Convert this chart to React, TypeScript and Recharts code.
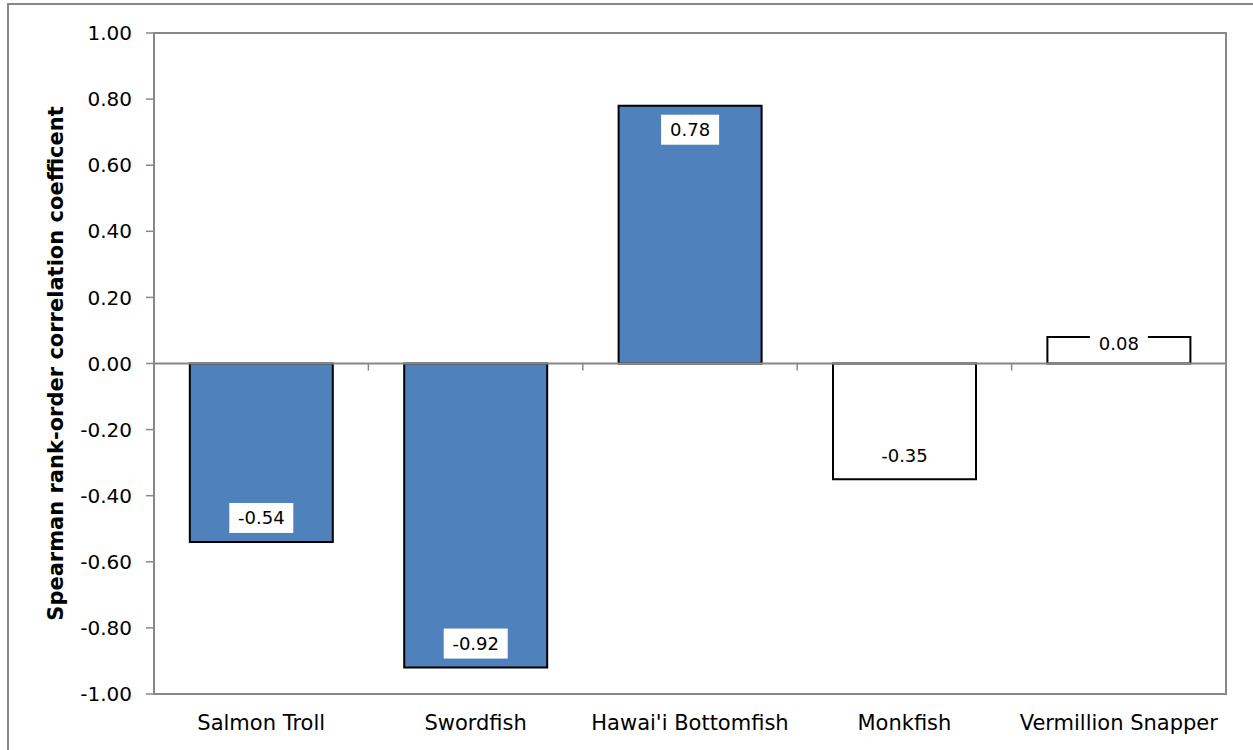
import { Bar, BarChart, Cell, LabelList, ReferenceArea, ReferenceLine, XAxis, YAxis } from 'recharts'

const categories = ['Salmon Troll', 'Swordfish', "Hawai'i Bottomfish", 'Monkfish', 'Vermillion Snapper']
const coefficients = [-0.54, -0.92, 0.78, -0.35, 0.08]
const yTicks = [-1, -0.8, -0.6, -0.4, -0.2, 0, 0.2, 0.4, 0.6, 0.8, 1]

const barFills = ['#4F81BD', '#4F81BD', '#4F81BD', '#FFFFFF', '#FFFFFF']
const FONT = '"DejaVu Sans", Verdana, sans-serif'
const AXIS_GREY = '#888888'

const data = categories.map((name, i) => ({ name, value: coefficients[i] }))

function ValueLabel(props: any) {
  const { x, y, width, height, value } = props
  const top = Math.min(y, y + height)
  const bottom = Math.max(y, y + height)
  const h = bottom - top
  const text = Number(value).toFixed(2)
  const inset = Math.min(24, Math.max(6, h - 21))
  const cy = value >= 0 ? top + inset : bottom - inset
  const cx = x + width / 2
  const w = 34 + text.length * 6
  return (
    <g>
      <rect x={cx - w / 2} y={cy - 15} width={w} height={30} fill="#fff" />
      <text x={cx} y={cy} textAnchor="middle" dominantBaseline="central" fontSize={18} fontFamily={FONT} fill="#000">
        {text}
      </text>
    </g>
  )
}

function ZeroLine(props: any) {
  const { x1, y1, x2 } = props
  const step = (x2 - x1) / categories.length
  return (
    <g>
      <line x1={x1} y1={y1} x2={x2} y2={y1} stroke={AXIS_GREY} strokeWidth={2} />
      {categories.slice(1).map((_, i) => (
        <line key={i} x1={x1 + step * (i + 1)} y1={y1} x2={x1 + step * (i + 1)} y2={y1 + 7} stroke={AXIS_GREY} strokeWidth={1.5} />
      ))}
    </g>
  )
}

export default function App() {
  return (
    <div style={{ position: 'absolute', left: 0, top: 0, width: 1253, height: 750, overflow: 'hidden', background: '#fff' }}>
      <div style={{ position: 'absolute', left: 7, top: 3, width: 1400, height: 900, border: `2px solid ${AXIS_GREY}` }} />
      <div style={{ position: 'absolute', left: 0, top: 0 }}>
        <BarChart width={1253} height={750} data={data} margin={{ top: 33, right: 27, bottom: 0, left: 0 }} barCategoryGap="16.7%">
          <XAxis
            dataKey="name"
            height={56}
            axisLine={false}
            tickLine={false}
            tickMargin={15}
            interval={0}
            tick={{ fill: '#000', fontSize: 21, fontFamily: FONT }}
          />
          <YAxis
            width={154}
            domain={[-1, 1]}
            ticks={yTicks}
            tickFormatter={(v: number) => v.toFixed(2)}
            axisLine={{ stroke: AXIS_GREY, strokeWidth: 2 }}
            tickLine={{ stroke: AXIS_GREY, strokeWidth: 1.5 }}
            tickSize={8}
            tickMargin={14}
            tick={{ fill: '#000', fontSize: 20, fontFamily: FONT }}
            label={{
              content: ({ viewBox }: any) => {
                const cx = viewBox.x + 56
                const cy = viewBox.y + viewBox.height / 2
                return (
                  <text x={cx} y={cy} transform={`rotate(-90, ${cx}, ${cy})`} textAnchor="middle" dominantBaseline="central" fontSize={21} fontWeight="bold" fontFamily={FONT} fill="#000">
                    Spearman rank-order correlation coefficent
                  </text>
                )
              },
            }}
          />
          <ReferenceArea y1={-1} y2={1} fill="none" stroke={AXIS_GREY} strokeWidth={2} ifOverflow="visible" />
          <Bar dataKey="value" stroke="#000" strokeWidth={2} isAnimationActive={false}>
            {data.map((d, i) => (
              <Cell key={d.name} fill={barFills[i]} />
            ))}
            <LabelList dataKey="value" content={<ValueLabel />} />
          </Bar>
          <ReferenceLine y={0} shape={<ZeroLine />} />
        </BarChart>
      </div>
    </div>
  )
}
